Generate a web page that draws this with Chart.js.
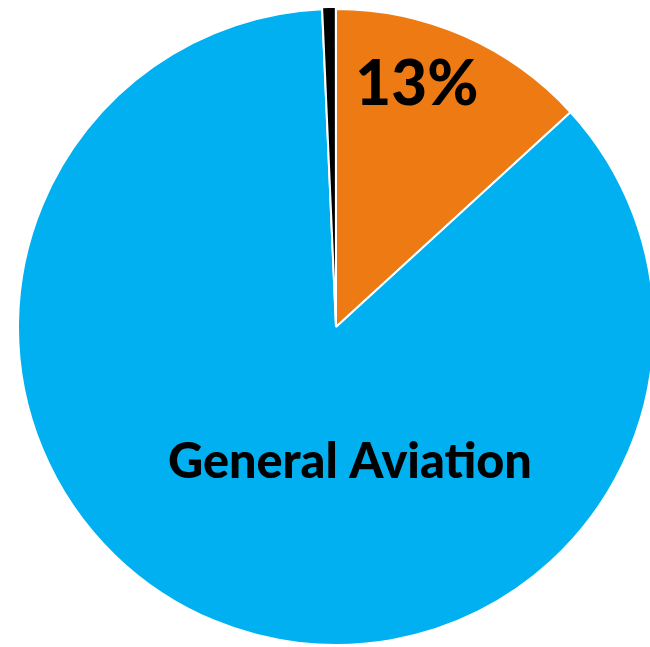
<!DOCTYPE html>
<html>
<head>
<meta charset="utf-8">
<script src="https://cdn.jsdelivr.net/npm/chart.js@4"></script>
<style>
  html, body { margin: 0; padding: 0; background: #ffffff; overflow: hidden; width: 650px; height: 647px; }
  #wrap { position: absolute; left: 15px; top: 6px; width: 642px; height: 642px; }
</style>
</head>
<body>
<div id="wrap"><canvas id="c"></canvas></div>
<script>
// ---- data ----
const categories = ["Commercial Aviation", "General Aviation", "Other"];
const shares = [13.2, 86.1, 0.7];
const sliceLabels = ["13%", "General Aviation", ""];
const sliceColors = ["#EE7A14", "#00B0F0", "#000000"];

// label placement relative to pie centre, in units of radius
const labelLayout = [
  { dx: 0.255, dy: -0.699, w: 0.388, size: 63 },
  { dx: 0.044, dy: 0.476, w: 1.148, size: 49 },
  null
];

const labelPlugin = {
  id: 'sliceLabels',
  afterDatasetsDraw(chart) {
    const meta = chart.getDatasetMeta(0);
    const ctx = chart.ctx;
    meta.data.forEach((arc, i) => {
      const lay = labelLayout[i];
      const txt = sliceLabels[i];
      if (!lay || !txt) return;
      const r = arc.outerRadius - 1;
      const cx = arc.x, cy = arc.y;
      ctx.save();
      ctx.font = '900 ' + lay.size + 'px Lato, "Open Sans", sans-serif';
      ctx.fillStyle = '#000000';
      ctx.textAlign = 'center';
      ctx.textBaseline = 'alphabetic';
      const mw = ctx.measureText(txt).width;
      const sx = (lay.w * r) / mw;
      ctx.translate(cx + lay.dx * r, cy + lay.dy * r);
      ctx.scale(sx, 1);
      ctx.fillText(txt, 0, 0);
      ctx.restore();
    });
  }
};

new Chart(document.getElementById('c'), {
  type: 'pie',
  data: {
    labels: categories,
    datasets: [{
      data: shares,
      backgroundColor: sliceColors,
      borderColor: '#ffffff',
      borderWidth: 2,
      offset: [0, 0, 4],
      hoverOffset: 0
    }]
  },
  options: {
    responsive: true,
    maintainAspectRatio: false,
    animation: false,
    events: [],
    layout: { padding: 0 },
    plugins: {
      legend: { display: false },
      tooltip: { enabled: false },
      title: { display: false }
    }
  },
  plugins: [labelPlugin]
});
</script>
</body>
</html>
